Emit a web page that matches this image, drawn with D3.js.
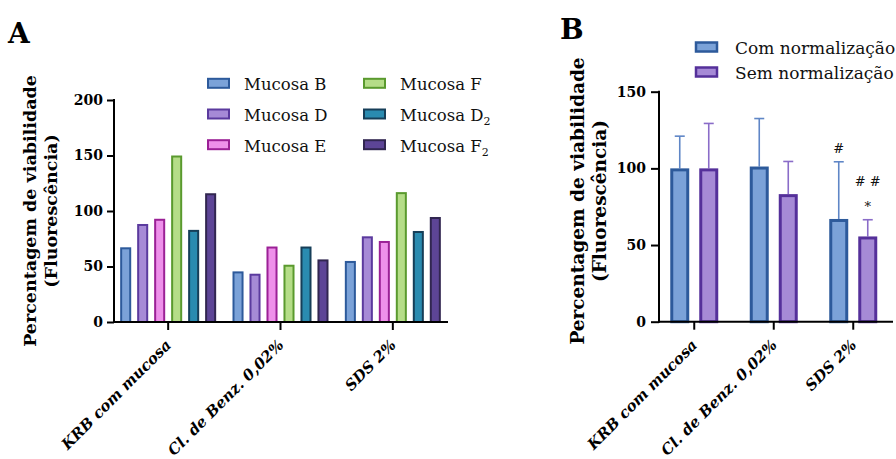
<!DOCTYPE html>
<html><head><meta charset="utf-8">
<script src="https://cdn.jsdelivr.net/npm/d3@7"></script>
<style>
html,body{margin:0;padding:0;background:#fff;}
svg{display:block;font-family:"DejaVu Serif",serif;}
</style></head>
<body><svg id="c" width="896" height="459"></svg>
<script>
// ---------- DATA ----------
const categories = ["KRB com mucosa", "Cl. de Benz. 0,02%", "SDS 2%"];

// Panel A
const mucosaKeys   = ["B", "D", "E", "F", "D2", "F2"];
const mucosaNames  = ["Mucosa B", "Mucosa D", "Mucosa E", "Mucosa F", "Mucosa D", "Mucosa F"];
const mucosaSubs   = ["", "", "", "", "2", "2"];
const mucosaB  = [67.3, 45.6, 55.0];
const mucosaD  = [88.3, 43.5, 77.2];
const mucosaE  = [93.0, 68.0, 73.0];
const mucosaF  = [150.0, 51.6, 117.0];
const mucosaD2 = [83.0, 68.0, 82.0];
const mucosaF2 = [116.0, 56.4, 94.6];
const ticksA = [0, 50, 100, 150, 200];

// Panel B
const normKeys  = ["com", "sem"];
const normNames = ["Com normalização", "Sem normalização"];
const comMean = [100.0, 101.2, 67.0];
const comSD   = [21.0, 31.3, 37.3];
const semMean = [100.0, 83.2, 55.6];
const semSD   = [29.3, 21.3, 10.9];
const ticksB = [0, 50, 100, 150];
const annotations = [
  {cat: "SDS 2%", key: "com", lines: ["#"]},
  {cat: "SDS 2%", key: "sem", lines: ["# #", "*"]}
];

const yTitle1 = "Percentagem de viabilidade";
const yTitle2 = "(Fluorescência)";

// ---------- STYLES ----------
const fillA   = {B:"#7ba2d8", D:"#a68ad6", E:"#ee90ea", F:"#b5dd88", D2:"#2a8bb0", F2:"#5d4596"};
const strokeA = {B:"#2d5a9b", D:"#5b3a9e", E:"#9b2096", F:"#5a9a2e", D2:"#163e58", F2:"#312650"};
const fillB   = {com:"#7ba2d8", sem:"#a68ad6"};
const strokeB = {com:"#2d5a9b", sem:"#55309a"};
const errB    = {com:"#5f86c6", sem:"#8a6cc8"};

const svg = d3.select("#c");
const mucosaVals = {B:mucosaB, D:mucosaD, E:mucosaE, F:mucosaF, D2:mucosaD2, F2:mucosaF2};

// ================= PANEL A =================
(function(){
  const x0 = 114, x1 = 448, yTop = 100, yBot = 322;
  const y = d3.scaleLinear().domain([0,200]).range([yBot, yTop]);
  const x = d3.scaleBand().domain(categories).range([112, 449]);
  const xi = d3.scaleBand().domain(mucosaKeys).range([-48, 48]).paddingInner(0.35);
  const g = svg.append("g");

  // bars
  categories.forEach((c, ci) => {
    mucosaKeys.forEach(k => {
      const v = mucosaVals[k][ci];
      const bx = x(c) + x.bandwidth()/2 + xi(k);
      g.append("rect")
        .attr("x", bx + 1).attr("y", y(v) + 1)
        .attr("width", xi.bandwidth() - 2).attr("height", y(0) - y(v) - 1)
        .attr("fill", fillA[k]).attr("stroke", strokeA[k]).attr("stroke-width", 2);
    });
  });

  // y axis
  const ya = g.append("g").attr("transform", `translate(${x0},0)`)
    .call(d3.axisLeft(y).tickValues(ticksA).tickSize(7).tickPadding(4).tickSizeOuter(0));
  ya.select(".domain").remove();
  ya.selectAll(".tick line").attr("stroke", "#000").attr("stroke-width", 2);
  ya.selectAll(".tick text").attr("font-family", "DejaVu Serif").attr("font-weight", "bold")
    .attr("font-size", 14).attr("fill", "#000");
  g.append("line").attr("x1", x0).attr("x2", x0).attr("y1", y(200) - 1).attr("y2", yBot + 1)
    .attr("stroke", "#000").attr("stroke-width", 2);

  // x axis
  const xa = g.append("g").attr("transform", `translate(0,${yBot})`)
    .call(d3.axisBottom(x).tickSize(8).tickSizeOuter(0));
  xa.select(".domain").remove();
  xa.selectAll(".tick line").attr("stroke", "#000").attr("stroke-width", 2);
  xa.selectAll(".tick text").remove();
  g.append("line").attr("x1", x0 - 1).attr("x2", x1).attr("y1", yBot).attr("y2", yBot)
    .attr("stroke", "#000").attr("stroke-width", 2);
  categories.forEach(c => {
    const cx = x(c) + x.bandwidth()/2;
    g.append("text").attr("transform", `translate(${cx + 4},346) rotate(-45)`)
      .attr("text-anchor", "end").attr("font-weight", "bold").attr("font-style", "italic")
      .attr("font-size", 15).attr("fill", "#000").text(c);
  });

  // y title
  const t = g.append("g").attr("transform", `translate(36,${(yTop + yBot)/2}) rotate(-90)`);
  t.append("text").attr("text-anchor", "middle").attr("font-weight", "bold").attr("font-size", 17.5).text(yTitle1);
  t.append("text").attr("text-anchor", "middle").attr("y", 21).attr("font-weight", "bold").attr("font-size", 17.5).text(yTitle2);

  // panel label
  g.append("text").attr("x", 8).attr("y", 43).attr("font-weight", "bold").attr("font-size", 28).text("A");

  // legend
  mucosaKeys.forEach((k, i) => {
    const col = Math.floor(i / 3), row = i % 3;
    const sx = col === 0 ? 207 : 363;
    const cy = 83.3 + row * 30.7;
    g.append("rect").attr("x", sx + 1).attr("y", cy - 4.5).attr("width", 21).attr("height", 9)
      .attr("fill", fillA[k]).attr("stroke", strokeA[k]).attr("stroke-width", 2);
    const tx = g.append("text").attr("x", sx + 37).attr("y", cy + 7).attr("font-size", 16.5).attr("fill", "#111")
      .text(mucosaNames[i]);
    if (mucosaSubs[i]) tx.append("tspan").attr("font-size", 11).attr("dy", 4).text(mucosaSubs[i]);
  });
})();

// ================= PANEL B =================
(function(){
  const x0 = 659, x1 = 893, yTop = 91.7, yBot = 321.7;
  const y = d3.scaleLinear().domain([0,150]).range([yBot, yTop]);
  const x = d3.scaleBand().domain(categories).range([654.5, 893]);
  const xi = d3.scaleBand().domain(normKeys).range([-24, 24]).paddingInner(0.345);
  const g = svg.append("g");
  const mean = {com: comMean, sem: semMean}, sd = {com: comSD, sem: semSD};
  const errTop = {};

  categories.forEach((c, ci) => {
    normKeys.forEach(k => {
      const v = mean[k][ci], e = v + sd[k][ci];
      const bx = x(c) + x.bandwidth()/2 + xi(k);
      const mx = bx + xi.bandwidth()/2;
      errTop[c + "|" + k] = {x: mx, y: y(e)};
      g.append("line").attr("x1", mx).attr("x2", mx).attr("y1", y(v)).attr("y2", y(e))
        .attr("stroke", errB[k]).attr("stroke-width", 1.6);
      g.append("line").attr("x1", mx - 5).attr("x2", mx + 5).attr("y1", y(e)).attr("y2", y(e))
        .attr("stroke", errB[k]).attr("stroke-width", 1.6);
      g.append("rect")
        .attr("x", bx + 1.5).attr("y", y(v) + 1.5)
        .attr("width", xi.bandwidth() - 3).attr("height", y(0) - y(v) - 1.5)
        .attr("fill", fillB[k]).attr("stroke", strokeB[k]).attr("stroke-width", 3);
    });
  });

  // annotations
  annotations.forEach(a => {
    const p = errTop[a.cat + "|" + a.key];
    const n = a.lines.length;
    a.lines.forEach((ln, i) => {
      g.append("text").attr("x", p.x).attr("y", p.y - 9 - (n - 1 - i) * 25)
        .attr("text-anchor", "middle").attr("font-size", 13).attr("fill", "#111").text(ln);
    });
  });

  // y axis
  const ya = g.append("g").attr("transform", `translate(${x0},0)`)
    .call(d3.axisLeft(y).tickValues(ticksB).tickSize(8).tickPadding(5).tickSizeOuter(0));
  ya.select(".domain").remove();
  ya.selectAll(".tick line").attr("stroke", "#000").attr("stroke-width", 2);
  ya.selectAll(".tick text").attr("font-family", "DejaVu Serif").attr("font-weight", "bold")
    .attr("font-size", 14).attr("fill", "#000");
  g.append("line").attr("x1", x0).attr("x2", x0).attr("y1", y(150) - 1).attr("y2", yBot + 1)
    .attr("stroke", "#000").attr("stroke-width", 2);

  // x axis
  const xa = g.append("g").attr("transform", `translate(0,${yBot})`)
    .call(d3.axisBottom(x).tickSize(8).tickSizeOuter(0));
  xa.select(".domain").remove();
  xa.selectAll(".tick line").attr("stroke", "#000").attr("stroke-width", 2);
  xa.selectAll(".tick text").remove();
  g.append("line").attr("x1", x0 - 1).attr("x2", x1).attr("y1", yBot).attr("y2", yBot)
    .attr("stroke", "#000").attr("stroke-width", 2);
  categories.forEach(c => {
    const cx = x(c) + x.bandwidth()/2;
    g.append("text").attr("transform", `translate(${cx + 4},346) rotate(-45)`)
      .attr("text-anchor", "end").attr("font-weight", "bold").attr("font-style", "italic")
      .attr("font-size", 15).attr("fill", "#000").text(c);
  });

  // y title
  const t = g.append("g").attr("transform", `translate(584,201) rotate(-90)`);
  t.append("text").attr("text-anchor", "middle").attr("font-weight", "bold").attr("font-size", 18.5).text(yTitle1);
  t.append("text").attr("text-anchor", "middle").attr("y", 22).attr("font-weight", "bold").attr("font-size", 18.5).text(yTitle2);

  g.append("text").attr("x", 560).attr("y", 39).attr("font-weight", "bold").attr("font-size", 28).text("B");

  // legend
  normKeys.forEach((k, i) => {
    const cy = 47 + i * 25;
    g.append("rect").attr("x", 696).attr("y", cy - 4.5).attr("width", 21).attr("height", 9)
      .attr("fill", fillB[k]).attr("stroke", strokeB[k]).attr("stroke-width", 2.5);
    g.append("text").attr("x", 735).attr("y", cy + 7).attr("font-size", 17).attr("fill", "#111").text(normNames[i]);
  });
})();
</script></body></html>
